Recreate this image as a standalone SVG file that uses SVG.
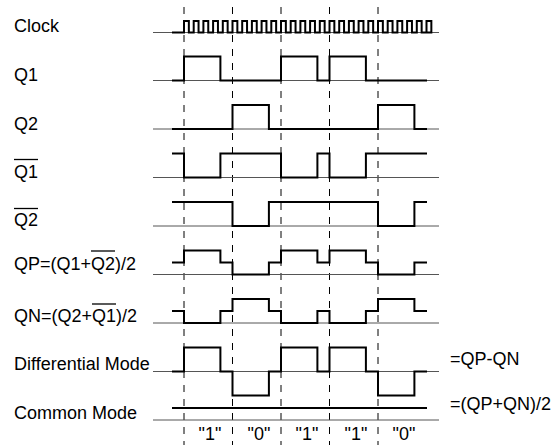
<svg xmlns="http://www.w3.org/2000/svg" width="560" height="445" viewBox="0 0 560 445">
<style>
text{font-family:"Liberation Sans",Arial,sans-serif;font-size:18px;fill:#000}
.base{stroke:#555;stroke-width:1;fill:none}
.sig{stroke:#000;stroke-width:2;fill:none;stroke-linejoin:miter}
.dash{stroke:#000;stroke-width:1;stroke-dasharray:7 7;fill:none}
.ov{stroke:#000;stroke-width:1.3}
</style>
<rect width="560" height="445" fill="#fff"/>
<g id="connectors">
<line class="dash" x1="184" y1="7" x2="184" y2="445"/>
<line class="dash" x1="232.5" y1="7" x2="232.5" y2="445"/>
<line class="dash" x1="281" y1="7" x2="281" y2="445"/>
<line class="dash" x1="329.5" y1="7" x2="329.5" y2="445"/>
<line class="dash" x1="378" y1="7" x2="378" y2="445"/>
</g>
<g id="clock">
<text x="14" y="32">Clock</text>
<line class="base" x1="153" y1="32.5" x2="439" y2="32.5"/>
<path class="sig" d="M172,32.5 H184 v-11.6 h4.85 v11.6 h4.85 v-11.6 h4.85 v11.6 h4.85 v-11.6 h4.85 v11.6 h4.85 v-11.6 h4.85 v11.6 h4.85 v-11.6 h4.85 v11.6 h4.85 v-11.6 h4.85 v11.6 h4.85 v-11.6 h4.85 v11.6 h4.85 v-11.6 h4.85 v11.6 h4.85 v-11.6 h4.85 v11.6 h4.85 v-11.6 h4.85 v11.6 h4.85 v-11.6 h4.85 v11.6 h4.85 v-11.6 h4.85 v11.6 h4.85 v-11.6 h4.85 v11.6 h4.85 v-11.6 h4.85 v11.6 h4.85 v-11.6 h4.85 v11.6 h4.85 v-11.6 h4.85 v11.6 h4.85 v-11.6 h4.85 v11.6 h4.85 v-11.6 h4.85 v11.6 h4.85 v-11.6 h4.85 v11.6 h4.85 v-11.6 h4.85 v11.6 h4.85 v-11.6 h4.85 v11.6 h4.85 v-11.6 h4.85 v11.6 h4.85 v-11.6 h4.85 v11.6 h4.85 v-11.6 h4.85 v11.6 h4.85 v-11.6 h4.85 v11.6 h4.85 v-11.6 h4.85 v11.6 H427"/>
</g>
<g id="q1">
<text x="14" y="81">Q1</text>
<line class="base" x1="153" y1="80.5" x2="439" y2="80.5"/>
<path class="sig" d="M172,80.5 H184 V56.5 H220.4 V80.5 H281 V56.5 H317.4 V80.5 H329.5 V56.5 H365.9 V80.5 H427"/>
</g>
<g id="q2">
<text x="14" y="130">Q2</text>
<line class="base" x1="153" y1="129" x2="439" y2="129"/>
<path class="sig" d="M172,129 H232.5 V105 H268.9 V129 H378 V105 H414.4 V129 H427"/>
</g>
<g id="q1bar">
<text x="14" y="178">Q1</text>
<line class="ov" x1="14" y1="159.5" x2="38" y2="159.5"/>
<line class="base" x1="153" y1="177.5" x2="439" y2="177.5"/>
<path class="sig" d="M172,153.5 H184 V177.5 H220.4 V153.5 H281 V177.5 H317.4 V153.5 H329.5 V177.5 H365.9 V153.5 H427"/>
</g>
<g id="q2bar">
<text x="14" y="226">Q2</text>
<line class="ov" x1="14" y1="208.5" x2="38" y2="208.5"/>
<line class="base" x1="153" y1="226" x2="439" y2="226"/>
<path class="sig" d="M172,202 H232.5 V226 H268.9 V202 H378 V226 H414.4 V202 H427"/>
</g>
<g id="qp">
<text x="14" y="270">QP=(Q1+Q2)/2</text>
<line class="ov" x1="91" y1="251" x2="115" y2="251"/>
<line class="base" x1="153" y1="274.5" x2="439" y2="274.5"/>
<path class="sig" d="M172,262.5 H184 V250.5 H220.4 V262.5 H232.5 V274.5 H268.9 V262.5 H281 V250.5 H317.4 V262.5 H329.5 V250.5 H365.9 V262.5 H378 V274.5 H414.4 V262.5 H427"/>
</g>
<g id="qn">
<text x="14" y="322">QN=(Q2+Q1)/2</text>
<line class="ov" x1="92" y1="304" x2="116" y2="304"/>
<line class="base" x1="153" y1="323" x2="439" y2="323"/>
<path class="sig" d="M172,311 H184 V323 H220.4 V311 H232.5 V299 H268.9 V311 H281 V323 H317.4 V311 H329.5 V323 H365.9 V311 H378 V299 H414.4 V311 H427"/>
</g>
<g id="differential">
<text x="14" y="370">Differential Mode</text>
<line class="base" x1="153" y1="371.5" x2="439" y2="371.5"/>
<path class="sig" d="M172,371.5 H184 V347.5 H220.4 V371.5 H232.5 V395.5 H268.9 V371.5 H281 V347.5 H317.4 V371.5 H329.5 V347.5 H365.9 V371.5 H378 V395.5 H414.4 V371.5 H427"/>
<text x="450" y="365">=QP-QN</text>
</g>
<g id="common">
<text x="14" y="419">Common Mode</text>
<line class="base" x1="153" y1="420" x2="439" y2="420"/>
<path class="sig" d="M172,408 H427"/>
<text x="450" y="410">=(QP+QN)/2</text>
</g>
<g id="bits" text-anchor="middle">
<text x="210" y="440">"1"</text>
<text x="259" y="440">"0"</text>
<text x="307" y="440">"1"</text>
<text x="356" y="440">"1"</text>
<text x="404" y="440">"0"</text>
</g>
</svg>
